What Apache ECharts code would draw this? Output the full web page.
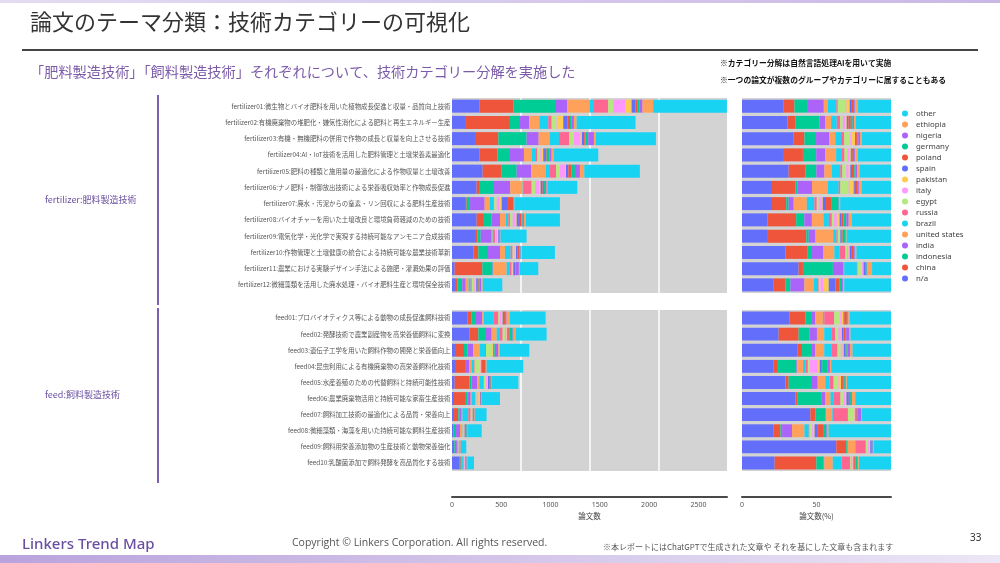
<!DOCTYPE html>
<html><head><meta charset="utf-8">
<script src="https://cdn.jsdelivr.net/npm/echarts@6/dist/echarts.min.js"></script>
<style>html,body{margin:0;padding:0;background:#fff}#c{width:1000px;height:563px}</style>
</head><body><div id="c"></div>
<script>
// ---- data ----
const countries = ['n/a','china','indonesia','india','united states','brazil','russia','egypt','italy','pakistan','spain','poland','germany','nigeria','ethiopia','other'];
const countryColors = ['#636efa','#ef553b','#00cc96','#ab63fa','#ffa15a','#19d3f3','#ff6692','#b6e880','#ff97ff','#fecb52','#636efa','#ef553b','#00cc96','#ab63fa','#ffa15a','#19d3f3'];

const fertilizerCategories = [
  'fertilizer01:微生物とバイオ肥料を用いた植物成長促進と収量・品質向上技術',
  'fertilizer02:有機廃棄物の堆肥化・嫌気性消化による肥料と再生エネルギー生産',
  'fertilizer03:有機・無機肥料の併用で作物の成長と収量を向上させる技術',
  'fertilizer04:AI・IoT技術を活用した肥料管理と土壌栄養素最適化',
  'fertilizer05:肥料の種類と施用量の最適化による作物収量と土壌改善',
  'fertilizer06:ナノ肥料・制御放出技術による栄養吸収効率と作物成長促進',
  'fertilizer07:廃水・汚泥からの窒素・リン回収による肥料生産技術',
  'fertilizer08:バイオチャーを用いた土壌改良と環境負荷軽減のための技術',
  'fertilizer09:電気化学・光化学で実現する持続可能なアンモニア合成技術',
  'fertilizer10:作物管理と土壌健康の統合による持続可能な農業技術革新',
  'fertilizer11:農業における実験デザイン手法による施肥・灌漑効果の評価',
  'fertilizer12:微細藻類を活用した廃水処理・バイオ肥料生産と環境保全技術'
];
const feedCategories = [
  'feed01:プロバイオティクス等による動物の成長促進飼料技術',
  'feed02:発酵技術で農業副産物を高栄養価飼料に変換',
  'feed03:遺伝子工学を用いた飼料作物の開発と栄養価向上',
  'feed04:昆虫利用による有機廃棄物の高栄養飼料化技術',
  'feed05:水産養殖のための代替飼料と持続可能性技術',
  'feed06:農業廃棄物活用と持続可能な家畜生産技術',
  'feed07:飼料加工技術の最適化による品質・栄養向上',
  'feed08:微細藻類・海藻を用いた持続可能な飼料生産技術',
  'feed09:飼料用栄養添加物の生産技術と動物栄養強化',
  'feed10:乳酸菌添加で飼料発酵を高品質化する技術'
];

// paper counts per category row, columns in the order of `countries`
const fertilizerCounts = [
  [277,345,433,114,224,47,145,51,125,61,40,17,21,33,108,748],
  [132,456,102,94,102,91,34,50,7,61,41,27,16,24,27,598],
  [243,227,287,122,111,95,105,47,68,13,24,13,27,58,17,612],
  [277,183,128,142,78,44,13,30,14,17,17,17,27,24,23,450],
  [311,193,152,148,149,41,61,40,51,10,24,33,34,51,44,564],
  [250,24,152,165,126,13,78,34,44,13,20,14,10,17,7,304],
  [132,17,34,148,54,34,10,24,27,24,54,64,4,3,3,463],
  [250,74,78,85,61,23,17,27,24,17,23,27,11,13,20,345],
  [243,14,34,111,10,14,10,10,14,10,7,6,3,3,3,265],
  [216,51,98,122,50,58,20,20,7,7,13,21,13,5,5,338],
  [27,281,104,7,135,34,17,5,5,7,17,5,5,30,7,189],
  [30,24,50,35,30,20,12,18,12,15,15,10,10,15,15,199]
];
const feedCounts = [
  [155,44,44,64,17,95,51,17,17,10,13,10,10,7,34,362],
  [176,91,68,67,51,34,27,23,17,7,10,10,34,10,20,315],
  [30,92,34,60,68,51,10,57,7,7,6,7,7,34,17,297],
  [30,102,10,34,23,24,7,54,7,6,7,31,6,4,6,372],
  [27,149,23,58,20,41,6,21,13,7,13,14,3,4,3,271],
  [20,112,24,33,10,34,7,10,17,17,7,3,3,3,4,183],
  [20,44,10,24,7,61,23,7,7,7,6,7,4,3,4,117],
  [14,6,21,40,17,7,3,7,7,6,7,7,7,3,3,146],
  [20,3,7,20,4,10,3,3,3,3,3,3,3,3,3,54],
  [74,14,4,7,4,10,7,4,7,4,4,4,4,4,4,68]
];
// share (%) per category row, columns in the order of `countries`
const fertilizerShares = [
  [28.0,7.2,8.5,11.2,2.7,5.8,0.9,5.1,0.7,2.2,0.9,1.3,0.9,0.7,1.8,22.1],
  [30.6,5.1,16.3,3.8,4.0,3.8,2.2,1.8,1.6,1.1,1.1,1.6,1.3,0.9,1.3,23.5],
  [34.7,7.2,7.8,8.9,4.0,3.8,2.2,4.0,1.1,2.2,0.7,0.9,0.5,1.3,1.1,19.6],
  [27.5,13.4,8.9,6.0,7.4,3.4,2.2,2.0,1.3,0.9,0.7,0.7,0.9,0.7,1.6,22.4],
  [31.3,11.2,7.4,5.4,5.1,5.6,1.3,2.7,1.6,1.1,1.1,1.6,0.9,0.9,1.8,21.0],
  [20.1,15.7,1.6,9.6,10.5,7.4,1.1,5.6,0.7,2.7,0.7,1.6,0.7,0.7,1.6,19.7],
  [20.1,9.6,1.6,3.4,8.8,5.1,1.6,1.3,2.2,0.5,2.2,3.4,5.1,0.5,0.5,34.1],
  [17.2,19.2,5.4,5.1,7.8,3.6,2.0,1.6,1.8,1.8,1.1,1.6,1.8,1.6,2.2,26.2],
  [16.8,26.4,1.6,4.5,11.9,2.2,0.9,0.9,0.4,0.4,0.7,0.9,1.8,0.4,0.4,29.8],
  [29.1,15.0,2.9,7.4,7.6,3.6,3.8,1.1,1.1,0.7,0.9,1.3,0.9,0.5,0.9,23.2],
  [38.0,2.9,20.1,7.2,0.4,8.5,0.5,2.9,0.7,0.4,1.1,0.5,0.5,0.5,3.1,12.7],
  [21.3,7.8,3.4,9.4,6.3,2.2,1.1,1.1,1.8,3.8,4.5,2.9,1.6,0.7,0.7,31.4]
];
const feedShares = [
  [32.0,10.5,3.8,2.9,5.1,0.9,6.7,4.0,1.1,1.1,0.5,1.8,0.5,0.5,0.9,27.7],
  [24.6,13.4,7.4,4.9,4.9,5.1,2.2,2.2,1.6,0.7,1.1,1.1,0.7,2.2,0.7,27.2],
  [37.4,2.9,6.7,2.2,6.0,5.1,3.8,2.2,1.3,0.7,1.1,0.7,0.7,1.8,1.6,25.8],
  [21.3,2.2,13.0,0.5,4.0,1.6,1.6,1.3,5.4,1.3,0.9,0.7,3.4,1.8,0.9,40.1],
  [29.1,2.2,15.7,3.8,5.1,2.9,2.7,2.7,0.7,1.6,0.7,1.1,0.7,0.7,0.7,29.6],
  [35.8,1.6,15.7,2.9,3.4,2.2,4.5,2.2,1.1,0.7,1.6,0.7,0.7,0.7,2.2,24.0],
  [45.9,3.4,6.7,0.5,4.0,0.5,10.1,4.0,0.5,0.5,0.7,0.5,0.5,2.2,0.5,19.5],
  [21.3,4.5,1.1,6.7,8.3,2.9,0.5,1.8,0.9,0.7,2.2,4.0,1.8,0.7,0.7,41.9],
  [63.3,6.7,0.5,0.5,4.9,0.5,6.7,1.6,0.7,0.7,0.5,0.5,0.5,0.5,0.5,11.4],
  [21.9,28.0,4.9,0.5,5.6,6.0,5.8,0.5,1.1,0.5,0.5,0.9,1.3,0.5,0.5,21.5]
];
const countAxisMax = 2790;
const countTickStep = 500;
const countGridStep = 700;
const shareTickStep = 50;

// ---- chart ----
const JP = '"Noto Sans CJK JP","Noto Sans",sans-serif';
const chart = echarts.init(document.getElementById('c'), null, {renderer:'canvas'});

function stackSeries(rows, xIdx, yIdx, stackId) {
  return countries.map((name, j) => ({
    type: 'bar', name, stack: stackId, xAxisIndex: xIdx, yAxisIndex: yIdx,
    barCategoryGap: '20%', itemStyle: {color: countryColors[j]},
    emphasis: {disabled: true}, animation: false,
    data: rows.map(r => r[j])
  }));
}
const gridBg = {show: true, backgroundColor: '#d3d3d3', borderWidth: 0, containLabel: false};
const hiddenY = (cats, gi, showLabels) => ({
  type: 'category', gridIndex: gi, data: cats, inverse: true,
  axisLine: {show: false}, axisTick: {show: false}, splitLine: {show: false},
  axisLabel: {show: showLabels, fontSize: 6.4, color: '#555', margin: 1.5, fontFamily: JP}
});
const gridX = gi => ({
  type: 'value', gridIndex: gi, min: 0, max: countAxisMax, interval: countGridStep, position: 'top',
  axisLine: {show: false}, axisTick: {show: false}, axisLabel: {show: false},
  splitLine: {show: true, showMinLine: false, showMaxLine: false, lineStyle: {color: '#ffffff', width: 1.5}}
});
const plainNum = v => String(v);

const option = {
  animation: false,
  backgroundColor: '#ffffff',
  grid: [
    Object.assign({left: 452, top: 98, width: 275, height: 195}, gridBg),
    Object.assign({left: 452, top: 310, width: 275, height: 161}, gridBg),
    Object.assign({left: 742, top: 98, width: 149, height: 195}, gridBg),
    Object.assign({left: 742, top: 310, width: 149, height: 161}, gridBg)
  ],
  xAxis: [
    gridX(0),
    gridX(1),
    {type: 'value', gridIndex: 1, min: 0, max: countAxisMax, interval: countTickStep, position: 'bottom', offset: 26,
     axisLine: {show: true, lineStyle: {color: '#4a4a4a', width: 2}}, axisTick: {show: false},
     axisLabel: {fontSize: 7, color: '#555', margin: 4, showMaxLabel: false, fontFamily: 'Noto Sans', formatter: plainNum},
     splitLine: {show: false},
     name: '論文数', nameLocation: 'middle', nameGap: 15, nameTextStyle: {fontSize: 7.5, color: '#444', fontFamily: JP}},
    {type: 'value', gridIndex: 2, min: 0, max: 100, interval: shareTickStep, show: false},
    {type: 'value', gridIndex: 3, min: 0, max: 100, interval: shareTickStep, position: 'bottom', offset: 26,
     axisLine: {show: true, lineStyle: {color: '#4a4a4a', width: 2}}, axisTick: {show: false},
     axisLabel: {fontSize: 7, color: '#555', margin: 4, showMaxLabel: false, fontFamily: 'Noto Sans', formatter: plainNum},
     splitLine: {show: false},
     name: '論文数(%)', nameLocation: 'middle', nameGap: 15, nameTextStyle: {fontSize: 7.5, color: '#444', fontFamily: JP}}
  ],
  yAxis: [
    hiddenY(fertilizerCategories, 0, true),
    hiddenY(feedCategories, 1, true),
    hiddenY(fertilizerCategories, 2, false),
    hiddenY(feedCategories, 3, false)
  ],
  legend: {
    orient: 'vertical', left: 902, top: 108, padding: 0, itemGap: 0,
    itemWidth: 6, itemHeight: 6, icon: 'circle',
    data: countries.slice().reverse(),
    textStyle: {fontSize: 7.8, color: '#444', lineHeight: 11, fontFamily: 'Noto Sans', padding: [0,0,0,3]},
    selectedMode: false
  },
  series: [].concat(
    stackSeries(fertilizerCounts, 0, 0, 'fc'),
    stackSeries(feedCounts, 1, 1, 'dc'),
    stackSeries(fertilizerShares, 3, 2, 'fs'),
    stackSeries(feedShares, 4, 3, 'ds')
  ),
  graphic: [
    {type: 'rect', shape: {x: 0, y: 0, width: 1000, height: 3}, silent: true,
     style: {fill: {type: 'linear', x: 0, y: 0, x2: 1, y2: 0, colorStops: [{offset: 0, color: '#e4dcf2'}, {offset: 1, color: '#c9b8e6'}]}}},
    {type: 'rect', shape: {x: 0, y: 555, width: 1000, height: 8}, silent: true,
     style: {fill: {type: 'linear', x: 0, y: 0, x2: 1, y2: 0, colorStops: [{offset: 0, color: '#b9a3dd'}, {offset: 1, color: '#ece6f6'}]}}},
    {type: 'text', x: 30, y: 22, silent: true,
     style: {text: '論文のテーマ分類：技術カテゴリーの可視化', fill: '#333', fontSize: 22, fontFamily: JP, verticalAlign: 'middle'}},
    {type: 'line', shape: {x1: 22, y1: 50, x2: 978, y2: 50}, silent: true, style: {stroke: '#444', lineWidth: 2}},
    {type: 'text', x: 30, y: 72, silent: true,
     style: {text: '「肥料製造技術」「飼料製造技術」それぞれについて、技術カテゴリー分解を実施した', fill: '#7b5aa8', fontSize: 14.2, fontFamily: JP, verticalAlign: 'middle'}},
    {type: 'text', x: 720, y: 63, silent: true,
     style: {text: '※カテゴリー分解は自然言語処理AIを用いて実施', fill: '#111', fontSize: 7.8, fontWeight: 'bold', fontFamily: JP, verticalAlign: 'middle'}},
    {type: 'text', x: 720, y: 80, silent: true,
     style: {text: '※一つの論文が複数のグループやカテゴリーに属することもある', fill: '#111', fontSize: 7.8, fontWeight: 'bold', fontFamily: JP, verticalAlign: 'middle'}},
    {type: 'line', shape: {x1: 158, y1: 95, x2: 158, y2: 305}, silent: true, style: {stroke: '#7d5fb2', lineWidth: 2}},
    {type: 'line', shape: {x1: 158, y1: 308, x2: 158, y2: 483}, silent: true, style: {stroke: '#7d5fb2', lineWidth: 2}},
    {type: 'text', x: 45, y: 200, silent: true,
     style: {text: 'fertilizer:肥料製造技術', fill: '#6a4fa0', fontSize: 9, fontFamily: JP, verticalAlign: 'middle'}},
    {type: 'text', x: 45, y: 395, silent: true,
     style: {text: 'feed:飼料製造技術', fill: '#6a4fa0', fontSize: 9, fontFamily: JP, verticalAlign: 'middle'}},
    {type: 'text', x: 22, y: 545, silent: true,
     style: {text: 'Linkers Trend Map', fill: '#6a4fa0', fontSize: 15, fontWeight: 500, fontFamily: '"Noto Sans",sans-serif', verticalAlign: 'middle'}},
    {type: 'text', x: 292, y: 543, silent: true,
     style: {text: 'Copyright © Linkers Corporation. All rights reserved.', fill: '#555', fontSize: 10.5, fontFamily: '"Open Sans",sans-serif', verticalAlign: 'middle'}},
    {type: 'text', x: 603, y: 547, silent: true,
     style: {text: '※本レポートにはChatGPTで生成された文章や それを基にした文章も含まれます', fill: '#555', fontSize: 8, fontFamily: JP, verticalAlign: 'middle'}},
    {type: 'text', x: 970, y: 538, silent: true,
     style: {text: '33', fill: '#333', fontSize: 10, fontFamily: '"Noto Sans",sans-serif', verticalAlign: 'middle'}}
  ]
};
chart.setOption(option);
</script></body></html>
